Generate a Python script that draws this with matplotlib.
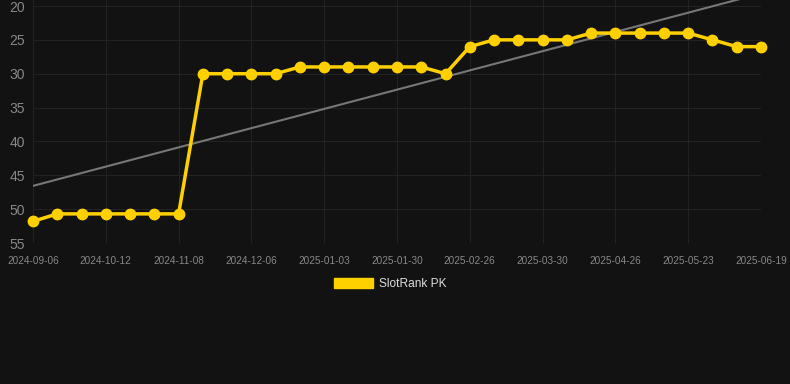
import matplotlib
matplotlib.use("Agg")
import matplotlib.pyplot as plt
from matplotlib.patches import Patch
import numpy as np

plt.rcParams['font.family'] = ['Liberation Sans', 'DejaVu Sans']

# rank values (lower is better), one point per snapshot
ranks = [51.8, 50.7, 50.7, 50.7, 50.7, 50.7, 50.7, 30, 30, 30, 30, 29, 29, 29,
         29, 29, 29, 30, 26, 25, 25, 25, 25, 24, 24, 24, 24, 24, 25, 26, 26]
# dates shown on the x axis (every third snapshot)
tick_labels = ["2024-09-06", "2024-10-12", "2024-11-08", "2024-12-06",
               "2025-01-03", "2025-01-30", "2025-02-26", "2025-03-30",
               "2025-04-26", "2025-05-23", "2025-06-19"]
y_ticks = [20, 25, 30, 35, 40, 45, 50, 55]

bg = "#121212"
yellow = "#FFD000"

fig = plt.figure(figsize=(7.9, 3.84), dpi=100, facecolor=bg)
ax = fig.add_axes([33 / 790, 1 - 243 / 384, (761 - 33) / 790, 243 / 384])
ax.set_facecolor(bg)

x = np.arange(len(ranks))

# trend line
k, b = np.polyfit(x, ranks, 1)
ax.plot(x, k * x + b, color="#777777", lw=1.5, zorder=2)

ax.plot(x, ranks, color=yellow, lw=2.5, marker="o", markersize=7.5,
        zorder=3, clip_on=False)

ax.set_xlim(0, len(ranks) - 1)
ax.set_ylim(55, 20 - 6 / 6.77)
ax.set_yticks(y_ticks)
ax.set_xticks(x[::3])
ax.set_xticklabels(tick_labels)

ax.grid(True, color="#222222", lw=0.8)
for s in ax.spines.values():
    s.set_visible(False)
ax.tick_params(axis="y", colors="#888888", labelsize=10, length=0, pad=6)
ax.tick_params(axis="x", colors="#888888", labelsize=7.2, length=0, pad=9)

leg = fig.legend(handles=[Patch(color=yellow, label="SlotRank PK")],
                 loc="center", bbox_to_anchor=(0.5 - 5 / 790, 1 - 284 / 384),
                 frameon=False, fontsize=8.6, handlelength=3.3,
                 handleheight=0.95, handletextpad=0.5, labelcolor="#dddddd")

fig.savefig("out.png", dpi=100, facecolor=bg)
